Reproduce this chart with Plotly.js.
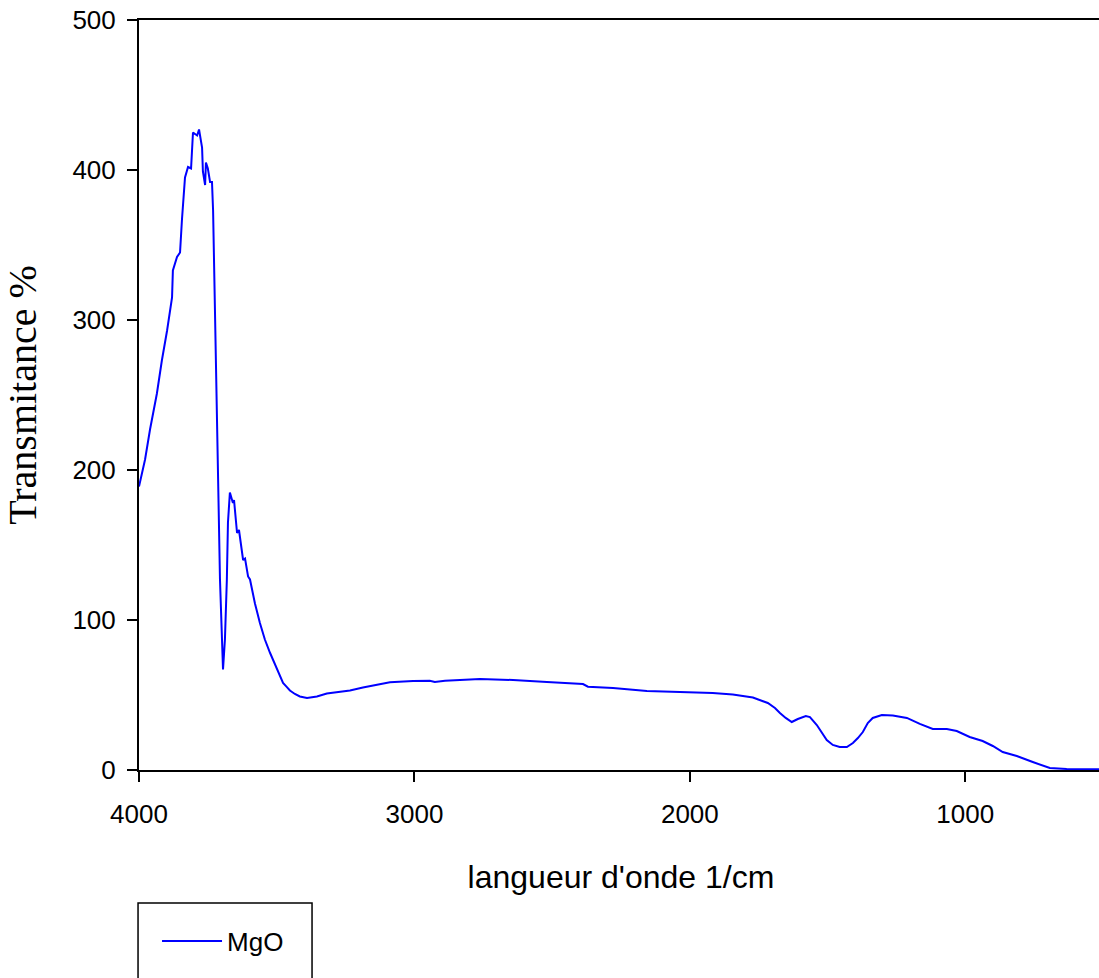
<!DOCTYPE html>
<html>
<head>
<meta charset="utf-8">
<script src="https://cdn.plot.ly/plotly-3.0.1.min.js"></script>
<style>
  html, body { margin: 0; padding: 0; background: #ffffff; overflow: hidden; }
  #chart { width: 1110px; height: 978px; }
</style>
</head>
<body>
<div id="chart"></div>
<script>
// FTIR spectrum of MgO: wavenumber (1/cm) vs transmittance (%)
const wavenumber = [
  4000, 3978, 3960, 3935, 3917, 3898, 3880, 3877, 3862, 3851, 3844, 3833, 3822, 3811,
  3804, 3789, 3782, 3771, 3768, 3760, 3757, 3750, 3742, 3735, 3731, 3724, 3713, 3706,
  3695, 3688, 3681, 3677, 3670, 3659, 3655, 3644, 3637, 3622, 3615, 3604, 3597, 3579,
  3561, 3543, 3524, 3499, 3488, 3477, 3463, 3452, 3434, 3416, 3390, 3354, 3318, 3281,
  3234, 3187, 3136, 3089, 3005, 2944, 2926, 2889, 2762, 2642, 2519, 2388, 2370, 2279,
  2156, 2036, 1917, 1844, 1771, 1717, 1691, 1673, 1652, 1630, 1608, 1579, 1564, 1539,
  1521, 1503, 1481, 1456, 1430, 1408, 1390, 1372, 1354, 1336, 1303, 1263, 1212, 1165,
  1118, 1067, 1031, 984, 937, 900, 864, 813, 755, 693, 632, 519, 500
];
const transmittance = [
  189, 207, 227, 251, 273, 293, 315, 333, 342, 345, 367, 395, 402, 401,
  425, 423, 427, 415, 399, 390, 405, 401, 392, 392, 373, 307, 193, 127,
  67, 87, 127, 165, 185, 178, 180, 158, 160, 140, 141, 129, 127, 111,
  98, 87, 78, 67, 62, 58, 55.3, 53, 50.7, 49, 48, 49, 51, 52,
  53, 55, 57, 58.5, 59.3, 59.5, 58.7, 59.5, 60.7, 60, 58.7, 57.3, 55.5, 54.7,
  52.7, 52, 51.3, 50.3, 48.3, 44.7, 41.3, 38, 34.7, 32, 34, 36, 35.3, 30,
  24.7, 20, 16.7, 15.3, 15.3, 18, 21.3, 25.3, 31.3, 34.7, 36.7, 36.4, 34.7, 30.7,
  27.3, 27.3, 26, 22, 19.3, 16, 12, 9.3, 5.3, 1.3, 0.7, 0.4, 0.4
];
const seriesName = 'MgO';
const xTitle = "langueur d'onde 1/cm";
const yTitle = 'Transmitance %';
const xTicks = [4000, 3000, 2000, 1000];
const yTicks = [0, 100, 200, 300, 400, 500];

const sans = 'Arial, "Liberation Sans", sans-serif';
const serif = '"Times New Roman", "Liberation Serif", serif';

const trace = {
  x: wavenumber,
  y: transmittance,
  type: 'scatter',
  mode: 'lines',
  name: seriesName,
  line: { color: '#0000ff', width: 2 },
  showlegend: true
};

const layout = {
  width: 1110,
  height: 978,
  margin: { l: 139, r: 7, t: 20, b: 208 },
  paper_bgcolor: '#ffffff',
  plot_bgcolor: '#ffffff',
  showlegend: true,
  xaxis: {
    range: [4000, 500],
    tickvals: xTicks,
    ticktext: xTicks.map(String),
    ticks: 'outside',
    ticklen: 10,
    tickwidth: 2,
    tickcolor: '#000000',
    ticklabelstandoff: 10,
    showline: true,
    linecolor: '#000000',
    linewidth: 2,
    mirror: true,
    showgrid: false,
    zeroline: false,
    tickfont: { family: sans, size: 26, color: '#000000' },
    title: { text: xTitle, font: { family: sans, size: 32, color: '#000000' }, standoff: 37 }
  },
  yaxis: {
    range: [0, 500],
    tickvals: yTicks,
    ticktext: yTicks.map(String),
    ticks: 'outside',
    ticklen: 10,
    tickwidth: 2,
    tickcolor: '#000000',
    ticklabelstandoff: 6,
    showline: true,
    linecolor: '#000000',
    linewidth: 2,
    mirror: true,
    showgrid: false,
    zeroline: false,
    tickfont: { family: sans, size: 26, color: '#000000' },
    title: { text: yTitle, font: { family: serif, size: 40, color: '#000000' }, standoff: 23 }
  },
  legend: {
    x: 0.0187,
    xanchor: 'left',
    y: -0.228,
    yanchor: 'middle',
    bgcolor: 'rgba(0,0,0,0)',
    borderwidth: 0,
    itemwidth: 60,
    font: { family: sans, size: 26, color: '#000000' }
  },
  shapes: [
    {
      type: 'rect', xref: 'paper', yref: 'paper',
      x0: -0.001, x1: 0.1795, y0: -0.1773, y1: -0.30,
      line: { color: '#000000', width: 1.5 },
      fillcolor: 'rgba(0,0,0,0)'
    }
  ]
};

Plotly.newPlot('chart', [trace], layout, { displayModeBar: false, staticPlot: true });
</script>
</body>
</html>
